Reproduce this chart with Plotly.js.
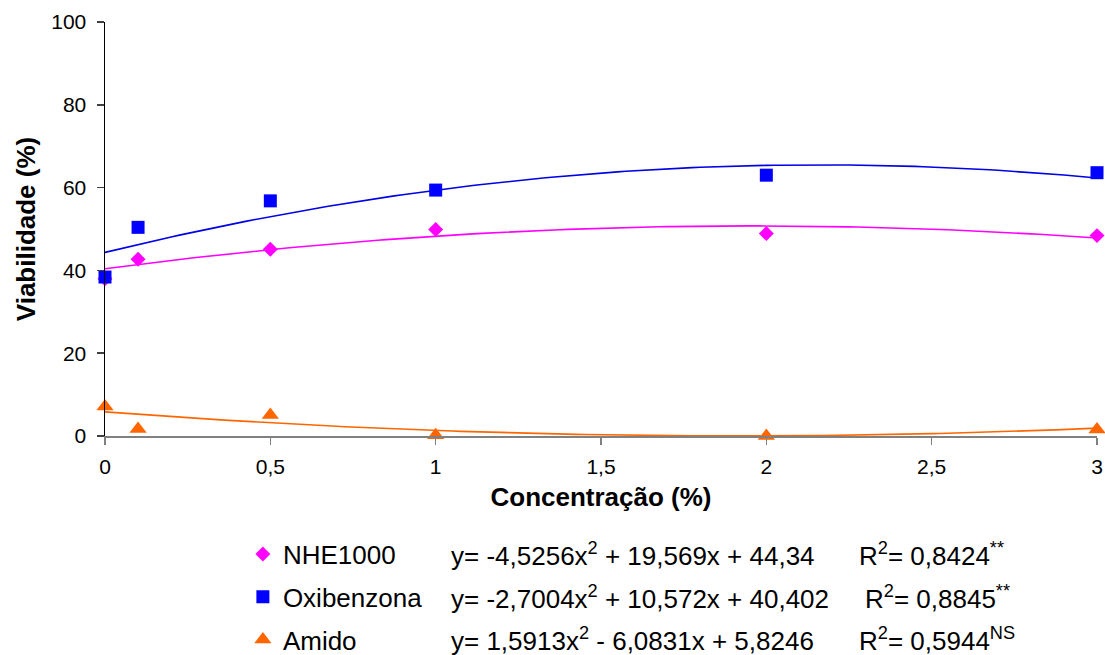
<!DOCTYPE html>
<html>
<head>
<meta charset="utf-8">
<script src="https://cdn.plot.ly/plotly-3.0.1.min.js"></script>
<style>
  html, body { margin: 0; padding: 0; background: #fff; }
  #chart { width: 1105px; height: 655px; }
</style>
</head>
<body>
<div id="chart"></div>
<script>
// Concentrations tested (%)
const conc = [0, 0.1, 0.5, 1, 2, 3];

// Mean viability (%) per concentration
const nhe1000    = [38.0, 42.7, 45.1, 49.9, 48.9, 48.4];
const oxibenzona = [38.4, 50.4, 56.8, 59.4, 63.0, 63.6];
const amido      = [7.1, 1.7, 5.1, 0.2, 0.0, 1.6];

// Quadratic regression coefficients [a, b, c] for y = a*x^2 + b*x + c, as printed in each legend row
const eqNhe1000    = [-4.5256, 19.569, 44.34];
const eqOxibenzona = [-2.7004, 10.572, 40.402];
const eqAmido      = [1.5913, -6.0831, 5.8246];

// Coefficient of determination and significance per row
const r2Values = ['0,8424', '0,8845', '0,5944'];
const r2Signif = ['**', '**', 'NS'];

// Axis ticks
const xTicks = [0, 0.5, 1, 1.5, 2, 2.5, 3];
const xTickText = ['0', '0,5', '1', '1,5', '2', '2,5', '3'];
const yTicks = [0, 20, 40, 60, 80, 100];

const FONT = 'Liberation Sans, Arial, sans-serif';
const COL_MAG = '#FF00FF';
const COL_BLUE = '#0000FF';
const COL_ORANGE = '#FF6600';

// Sample a quadratic over the concentration range
function quadCurve(coef) {
  const xs = [], ys = [];
  const n = 120;
  for (let i = 0; i <= n; i++) {
    const x = conc[0] + (conc[conc.length - 1] - conc[0]) * i / n;
    xs.push(x);
    ys.push(coef[0] * x * x + coef[1] * x + coef[2]);
  }
  return { x: xs, y: ys };
}

function fmt(v) { return String(Math.abs(v)).replace('.', ','); }
function eqText(c) {
  return 'y= ' + (c[0] < 0 ? '-' : '') + fmt(c[0]) + 'x<sup>2</sup> ' +
         (c[1] < 0 ? '-' : '+') + ' ' + fmt(c[1]) + 'x ' +
         (c[2] < 0 ? '-' : '+') + ' ' + fmt(c[2]);
}

const curveBlue = quadCurve(eqNhe1000);
const curveMag = quadCurve(eqOxibenzona);
const curveOrange = quadCurve(eqAmido);

const traces = [
  { x: curveMag.x, y: curveMag.y, mode: 'lines', line: { color: COL_MAG, width: 1.6 },
    showlegend: false, hoverinfo: 'skip' },
  { x: curveBlue.x, y: curveBlue.y, mode: 'lines', line: { color: '#0000E6', width: 1.6 },
    showlegend: false, hoverinfo: 'skip' },
  { x: curveOrange.x, y: curveOrange.y, mode: 'lines', line: { color: COL_ORANGE, width: 1.6 },
    showlegend: false, hoverinfo: 'skip' },
  { x: conc, y: nhe1000, name: 'NHE1000', mode: 'markers', legendgroup: 'a', cliponaxis: false,
    marker: { symbol: 'diamond', size: 11.5, color: COL_MAG } },
  { x: conc, y: oxibenzona, name: 'Oxibenzona', mode: 'markers', legendgroup: 'b', cliponaxis: false,
    marker: { symbol: 'square', size: 13, color: COL_BLUE } },
  { x: conc, y: amido, name: 'Amido', mode: 'markers', legendgroup: 'c', cliponaxis: false,
    marker: { symbol: 'triangle-up', size: 15, color: COL_ORANGE } }
];

// Equation and R² text beside each legend row
const rowY = [-0.2874, -0.3913, -0.4905];
const eqs = [eqNhe1000, eqOxibenzona, eqAmido];
const r2X = [0.758, 0.764, 0.758];
const annotations = [];
eqs.forEach((c, i) => {
  annotations.push({
    xref: 'paper', yref: 'paper', x: 0.347, y: rowY[i], xanchor: 'left', yanchor: 'middle',
    text: eqText(c), showarrow: false, font: { family: FONT, size: 26, color: '#000' }
  });
  annotations.push({
    xref: 'paper', yref: 'paper', x: r2X[i], y: rowY[i], xanchor: 'left', yanchor: 'middle',
    text: 'R<sup>2</sup>= ' + r2Values[i] + '<sup>' + r2Signif[i] + '</sup>',
    showarrow: false, font: { family: FONT, size: 26, color: '#000' }
  });
});

const layout = {
  width: 1105, height: 655,
  margin: { l: 105, r: 8, t: 22, b: 219, pad: 0 },
  paper_bgcolor: '#fff', plot_bgcolor: '#fff',
  font: { family: FONT, color: '#000' },
  separators: ',.',
  showlegend: true,
  legend: {
    x: 0.139, xanchor: 'left',
    yref: 'container', y: 0.19, yanchor: 'top',
    font: { family: FONT, size: 26, color: '#000' },
    traceorder: 'grouped', tracegroupgap: 6,
    bgcolor: 'rgba(0,0,0,0)'
  },
  xaxis: {
    range: [0, 3], tickvals: xTicks, ticktext: xTickText,
    showgrid: false, zeroline: false,
    showline: true, linecolor: '#808080', linewidth: 1.5,
    ticks: 'outside', ticklen: 7, tickcolor: '#808080', tickwidth: 1.5,
    ticklabelstandoff: 4,
    tickfont: { family: FONT, size: 21, color: '#000' },
    title: { text: 'Concentração (%)', font: { family: FONT, size: 26, color: '#000', weight: 'bold' }, standoff: 11 }
  },
  yaxis: {
    range: [0, 100], tickvals: yTicks,
    showgrid: false, zeroline: false,
    showline: true, linecolor: '#000', linewidth: 1.5,
    ticks: 'outside', ticklen: 7, tickcolor: '#404040', tickwidth: 1.5,
    ticklabelstandoff: 6,
    tickfont: { family: FONT, size: 21, color: '#000' },
    title: { text: 'Viabilidade (%)', font: { family: FONT, size: 26, color: '#000', weight: 'bold' }, standoff: 8 }
  },
  annotations: annotations
};

Plotly.newPlot('chart', traces, layout, { displayModeBar: false, staticPlot: true });
</script>
</body>
</html>
